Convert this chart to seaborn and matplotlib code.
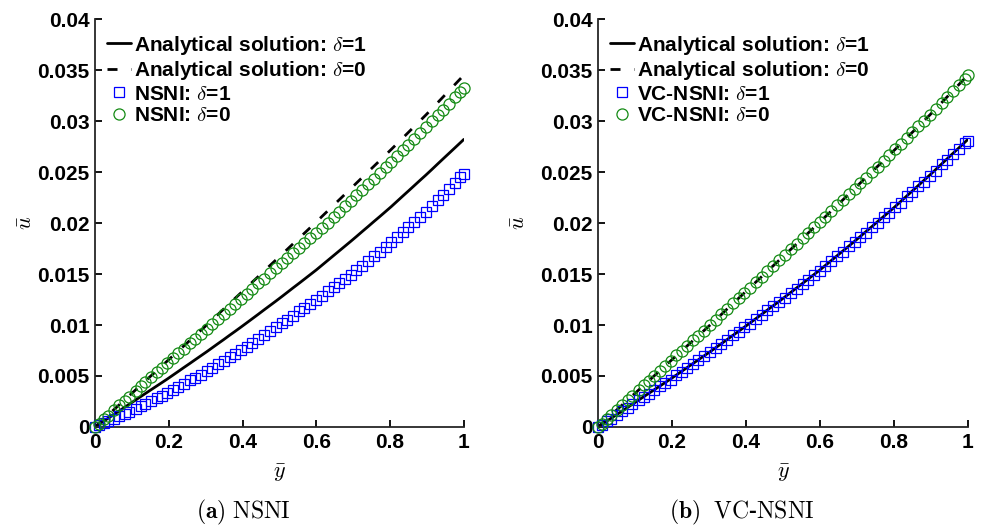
import matplotlib
matplotlib.use("Agg")
import matplotlib.pyplot as plt
import seaborn as sns
import pandas as pd
from matplotlib.ticker import FuncFormatter

# Node positions along the normalised coordinate y-bar
y_nodes = [0.000, 0.010, 0.024, 0.035, 0.052, 0.066, 0.081, 0.093, 0.110, 0.124,
           0.137, 0.152, 0.168, 0.181, 0.196, 0.212, 0.226, 0.241, 0.258, 0.271,
           0.287, 0.303, 0.318, 0.333, 0.349, 0.366, 0.380, 0.396, 0.411, 0.427,
           0.443, 0.458, 0.474, 0.490, 0.506, 0.521, 0.537, 0.553, 0.568, 0.584,
           0.600, 0.615, 0.631, 0.647, 0.662, 0.678, 0.694, 0.709, 0.725, 0.741,
           0.756, 0.772, 0.788, 0.803, 0.819, 0.835, 0.850, 0.866, 0.882, 0.897,
           0.913, 0.929, 0.944, 0.960, 0.976, 0.991, 1.000]

# Analytical displacement, delta = 1 and delta = 0
u_exact_d1 = [0, .00024, .00058, .00084, .00125, .00158, .00194, .00223, .00264, .00298,
              .00329, .00365, .00403, .00434, .0047, .0051, .00545, .00583, .00625, .00658,
              .00698, .00738, .00777, .00816, .00857, .00902, .00938, .0098, .0102, .01063,
              .01106, .01147, .0119, .01233, .01277, .01319, .01364, .01408, .0145, .01495,
              .0154, .01585, .01633, .01681, .01726, .01774, .01822, .01868, .01918, .01967,
              .02014, .02063, .02113, .0216, .02213, .02266, .02315, .02368, .02421, .0247,
              .02524, .02579, .0263, .02684, .02738, .02789, .0282]
u_exact_d0 = [0, .00033, .00079, .00116, .00172, .00218, .00267, .00307, .00363, .00409,
              .00452, .00502, .00554, .00597, .00647, .0070, .00746, .00795, .00851, .00894,
              .00947, .0100, .01051, .01102, .01157, .01214, .01262, .01316, .01367, .01422,
              .01476, .01527, .01582, .01636, .0169, .01741, .01796, .0185, .01901, .01956,
              .0201, .02063, .02119, .02175, .02227, .02283, .02339, .02392, .02448, .02504,
              .02556, .02612, .02668, .02721, .02778, .02836, .0289, .02948, .03005, .03059,
              .03119, .0318, .03237, .03298, .03359, .03416, .0345]

# NSNI results
u_nsni_d1 = [0, .00016, .00038, .00056, .00083, .00106, .0013, .00149, .00178, .00203,
             .00227, .00254, .00282, .00306, .00333, .00364, .00392, .00422, .00456, .00482,
             .00514, .00547, .0058, .00613, .00648, .00685, .00716, .00751, .00786, .00825,
             .00863, .00899, .00938, .00976, .01015, .01053, .01093, .01133, .0117, .0121,
             .0125, .01289, .01331, .01372, .01411, .01453, .01494, .01536, .01583, .01629,
             .01672, .01719, .01765, .0181, .01861, .01912, .0196, .02011, .02062, .0211,
             .02167, .02224, .02278, .02336, .02394, .02448, .0248]
u_nsni_d0 = [0, .00032, .00077, .00112, .00166, .00211, .00259, .00298, .00352, .00397,
             .00438, .00486, .00538, .00579, .00627, .00677, .00721, .00767, .0082, .0086,
             .0091, .0096, .01008, .01056, .01107, .01161, .01206, .01257, .01305, .01356,
             .01408, .01456, .01507, .01558, .01609, .01655, .01705, .01754, .01801, .0185,
             .0190, .01951, .02005, .0206, .02111, .02165, .0222, .02272, .02328, .02384,
             .02436, .02492, .02548, .02601, .02658, .02716, .0277, .02828, .02885, .02939,
             .02998, .03057, .03113, .03172, .03231, .03287, .0332]

# VC-NSNI results
u_vc_d1 = [0, .00022, .00055, .00083, .00121, .00156, .00190, .00221, .00260, .00296,
           .00325, .00363, .00398, .00432, .00465, .00508, .00540, .00581, .00619, .00656,
           .00692, .00735, .00771, .00813, .00851, .00899, .00931, .00977, .01013, .01060,
           .01099, .01144, .01182, .01230, .01269, .01316, .01356, .01405, .01441, .01492,
           .01531, .01582, .01624, .01678, .01716, .01771, .01812, .01865, .01907, .01963,
           .02003, .02059, .02101, .02156, .02200, .02262, .02302, .02364, .02407, .02466,
           .02510, .02575, .02616, .02679, .02723, .02784, .02800]
u_vc_d0 = [0, .00034, .00077, .00117, .00170, .00219, .00265, .00308, .00361, .00410,
           .00450, .00503, .00552, .00598, .00645, .00701, .00744, .00796, .00849, .00895,
           .00945, .01001, .01049, .01103, .01155, .01215, .01260, .01317, .01365, .01423,
           .01474, .01528, .01580, .01637, .01688, .01742, .01794, .01851, .01899, .01957,
           .02008, .02064, .02117, .02176, .02225, .02284, .02337, .02393, .02446, .02505,
           .02554, .02613, .02666, .02722, .02776, .02837, .02888, .02949, .03003, .03060,
           .03117, .03181, .03235, .03299, .03357, .03417, .03448]

x_ticks = [0, 0.2, 0.4, 0.6, 0.8, 1.0]
u_ticks = [0, 0.005, 0.01, 0.015, 0.02, 0.025, 0.03, 0.035, 0.04]

panels = [
    ("NSNI", u_nsni_d1, u_nsni_d0, r"$\mathbf{(a)}$ $\mathrm{NSNI}$"),
    ("VC-NSNI", u_vc_d1, u_vc_d0, r"$\mathbf{(b)}$  $\mathrm{VC}$-$\mathrm{NSNI}$"),
]

sns.set_theme(style="ticks")
plt.rcParams["font.family"] = ["Liberation Sans", "DejaVu Sans"]
plt.rcParams["font.weight"] = "bold"
plt.rcParams["mathtext.fontset"] = "cm"
plt.rcParams["axes.edgecolor"] = "#262626"
plt.rcParams["text.color"] = "black"
plt.rcParams["axes.labelcolor"] = "black"
plt.rcParams["xtick.color"] = "black"
plt.rcParams["ytick.color"] = "black"

BLUE = "#0000ff"
GREEN = "#138a13"

fig = plt.figure(figsize=(9.81, 5.27), dpi=100)
ax_rects = [[0.0968, 0.1898, 0.376, 0.774], [0.6096, 0.1898, 0.377, 0.774]]
caption_x = [0.248, 0.756]
ylabel_x = [-0.158, -0.185]

for rect, cx, lx, (name, u1, u0, caption) in zip(ax_rects, caption_x, ylabel_x, panels):
    ax = fig.add_axes(rect)
    df = pd.DataFrame({"y": y_nodes, "exact1": u_exact_d1, "exact0": u_exact_d0,
                       "num1": u1, "num0": u0})

    sns.lineplot(data=df, x="y", y="exact1", ax=ax, color="black", lw=2.0,
                 estimator=None, sort=False, zorder=2,
                 label=r"Analytical solution: $\delta$=1")
    sns.lineplot(data=df, x="y", y="exact0", ax=ax, color="black", lw=2.0,
                 linestyle=(0, (3.6, 4.9)), estimator=None, sort=False, zorder=2,
                 label=r"Analytical solution: $\delta$=0")
    sns.lineplot(data=df, x="y", y="num1", ax=ax, linestyle="", marker="s",
                 markersize=7, markerfacecolor="none", markeredgecolor=BLUE,
                 markeredgewidth=0.9, color=BLUE, estimator=None, sort=False,
                 zorder=3, clip_on=False, label=name + r": $\delta$=1")
    sns.lineplot(data=df, x="y", y="num0", ax=ax, linestyle="", marker="o",
                 markersize=8, markerfacecolor="none", markeredgecolor=GREEN,
                 markeredgewidth=0.9, color=GREEN, estimator=None, sort=False,
                 zorder=3, clip_on=False, label=name + r": $\delta$=0")

    ax.set_xlim(0, 1)
    ax.set_ylim(0, 0.04)
    ax.set_xticks(x_ticks)
    ax.set_yticks(u_ticks)
    ax.xaxis.set_major_formatter(FuncFormatter(lambda v, p: f"{v:g}"))
    ax.yaxis.set_major_formatter(FuncFormatter(lambda v, p: f"{v:g}"))
    ax.tick_params(direction="in", length=5, width=1.3, labelsize=15, pad=4,
                   colors="black")
    for lab in ax.get_xticklabels() + ax.get_yticklabels():
        lab.set_fontweight("bold")
    sns.despine(ax=ax)
    for s in ("left", "bottom"):
        ax.spines[s].set_linewidth(1.3)

    ax.set_xlabel(r"$\bar{y}$", fontsize=16, labelpad=8)
    ax.set_ylabel(r"$\bar{u}$", fontsize=16)
    ax.yaxis.set_label_coords(lx, 0.5)

    leg = ax.legend(loc="upper left", bbox_to_anchor=(0.032, 0.964),
                    frameon=False, fontsize=15, handlelength=1.15,
                    handletextpad=0.15, labelspacing=0.12, borderpad=0,
                    borderaxespad=0)
    for t in leg.get_texts():
        t.set_fontweight("bold")
        t.set_color("black")

    fig.text(cx, 0.027, caption, ha="center", va="center", fontsize=17)

fig.savefig("out.png", dpi=100)
